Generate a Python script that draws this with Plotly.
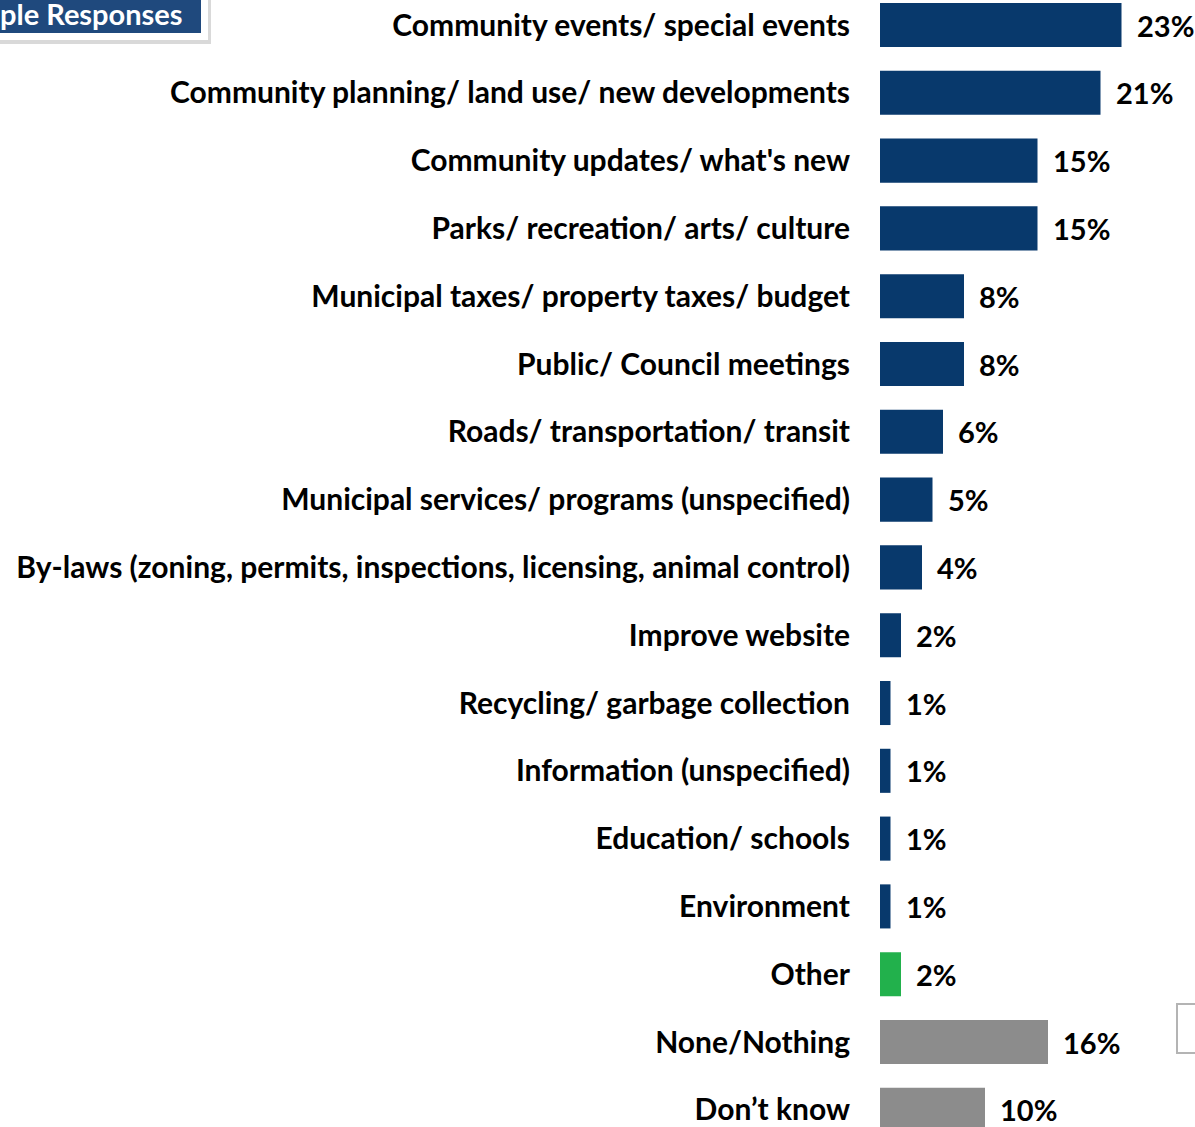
import plotly.graph_objects as go

# Survey categories, top to bottom
categories = [
    "Community events/ special events",
    "Community planning/ land use/ new developments",
    "Community updates/ what's new",
    "Parks/ recreation/ arts/ culture",
    "Municipal taxes/ property taxes/ budget",
    "Public/ Council meetings",
    "Roads/ transportation/ transit",
    "Municipal services/ programs (unspecified)",
    "By-laws (zoning, permits, inspections, licensing, animal control)",
    "Improve website",
    "Recycling/ garbage collection",
    "Information (unspecified)",
    "Education/ schools",
    "Environment",
    "Other",
    "None/Nothing",
    "Don\u2019t know",
]
percentages = [23, 21, 15, 15, 8, 8, 6, 5, 4, 2, 1, 1, 1, 1, 2, 16, 10]
groups = ["topic"] * 14 + ["other", "none", "none"]

group_colors = {"topic": "#08396C", "other": "#22B14C", "none": "#8C8C8C"}
bar_colors = [group_colors[g] for g in groups]

W, H = 1195, 1127
LEFT = 880          # left edge of the plotting area (px)
PLOT_W = W - LEFT
X_MAX = 30.0
FONT = "Lato"

fig = go.Figure(
    go.Bar(
        x=percentages,
        y=categories,
        orientation="h",
        marker=dict(color=bar_colors, line=dict(width=0)),
        hoverinfo="skip",
    )
)

# percentage labels just past the bar ends
for cat, val in zip(categories, percentages):
    fig.add_annotation(
        x=val, y=cat, xref="x", yref="y",
        text=f"{val}%", showarrow=False,
        xanchor="left", yanchor="middle", xshift=13,
        font=dict(family=FONT, size=29, color="#000000", weight="bold"),
    )

# row geometry: first row centred at 25px, 67.8px between rows
row_px = 67.8
top_val = -25 / row_px
bottom_val = (len(categories) - 1) + (H - 25 - row_px * (len(categories) - 1)) / row_px


def px_x(p):
    return (p - LEFT) / PLOT_W


def px_y(p):
    return 1 - p / H


# heading box in the top-left corner (with a soft drop shadow)
fig.add_shape(type="rect", xref="paper", yref="paper",
              x0=px_x(-20), x1=px_x(211), y0=px_y(44), y1=px_y(-10),
              fillcolor="rgba(0,0,0,0.15)", line=dict(width=0), layer="above")
fig.add_shape(type="rect", xref="paper", yref="paper",
              x0=px_x(-20), x1=px_x(208), y0=px_y(40), y1=px_y(-10),
              fillcolor="#FFFFFF", line=dict(width=0), layer="above")
fig.add_shape(type="rect", xref="paper", yref="paper",
              x0=px_x(-20), x1=px_x(201), y0=px_y(33), y1=px_y(-10),
              fillcolor="#1F497D", line=dict(width=0), layer="above")
fig.add_annotation(
    xref="paper", yref="paper", x=px_x(184), y=px_y(-5),
    text="ple Responses", showarrow=False,
    xanchor="right", yanchor="top", borderpad=0,
    font=dict(family=FONT, size=29, color="#FFFFFF", weight="bold"),
)

# legend frame partly visible on the right
fig.add_shape(type="rect", xref="paper", yref="paper",
              x0=px_x(1177), x1=px_x(1230), y0=px_y(1053), y1=px_y(1004),
              fillcolor="#FFFFFF", line=dict(color="#B4B4B4", width=2), layer="above")

fig.update_layout(
    width=W, height=H,
    margin=dict(l=LEFT, r=0, t=0, b=0, autoexpand=False),
    paper_bgcolor="#FFFFFF", plot_bgcolor="#FFFFFF",
    bargap=0.35,
    showlegend=False,
    xaxis=dict(range=[0, X_MAX], visible=False, fixedrange=True),
    yaxis=dict(
        range=[bottom_val, top_val],
        showgrid=False, zeroline=False, showline=False,
        ticks="outside", ticklen=23, tickcolor="rgba(0,0,0,0)",
        tickfont=dict(family=FONT, size=30, color="#000000", weight="bold"),
        automargin=False, fixedrange=True,
    ),
)

fig.write_html("out.html")
